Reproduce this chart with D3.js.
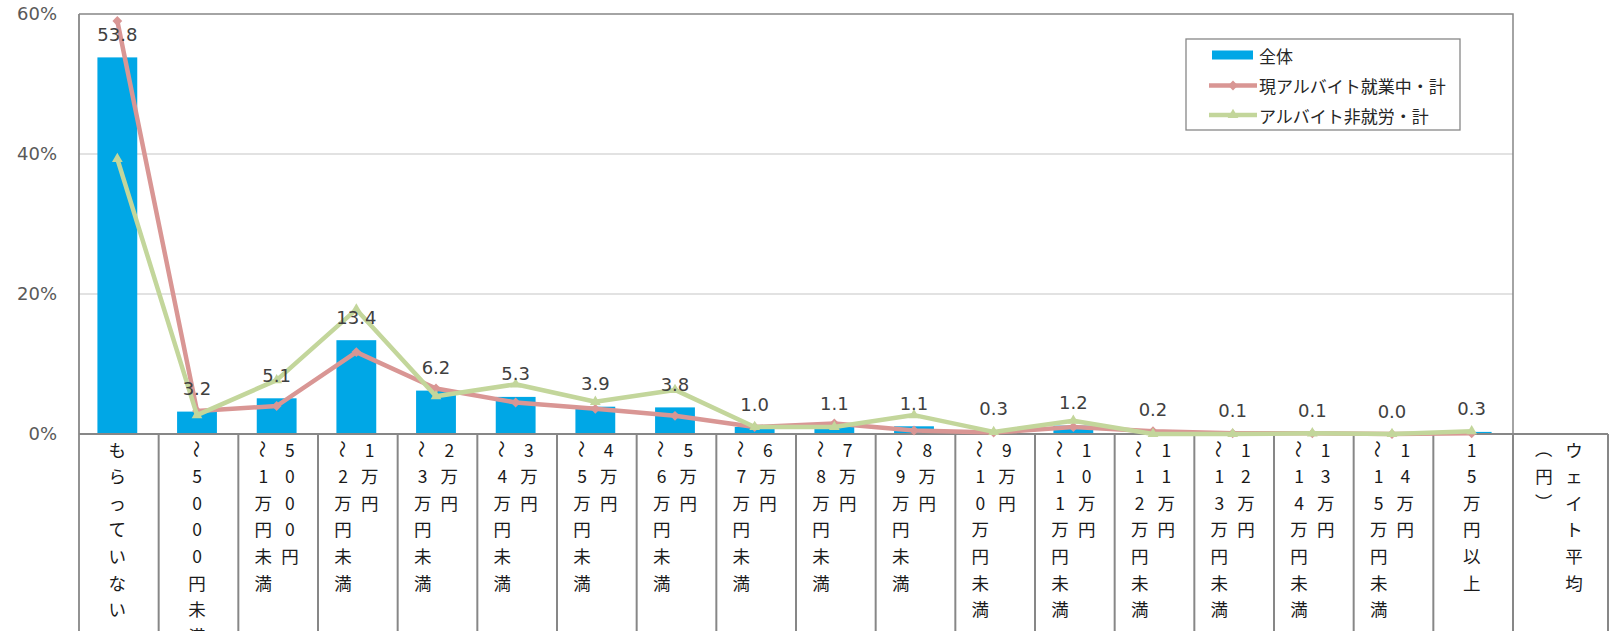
<!DOCTYPE html>
<html><head><meta charset="utf-8">
<script src="https://cdn.jsdelivr.net/npm/d3@7"></script>
<style>body{margin:0;background:#fff}svg{display:block}</style>
</head><body><svg id="c" width="1617" height="631"></svg>
<script>
const categories = ["もらっていない","～5000円未満","5000円～1万円未満","1万円～2万円未満","2万円～3万円未満","3万円～4万円未満","4万円～5万円未満","5万円～6万円未満","6万円～7万円未満","7万円～8万円未満","8万円～9万円未満","9万円～10万円未満","10万円～11万円未満","11万円～12万円未満","12万円～13万円未満","13万円～14万円未満","14万円～15万円未満","15万円以上","ウェイト平均（円）"];
const seriesNames = ["全体","現アルバイト就業中・計","アルバイト非就労・計"];
const totalValues = [53.8,3.2,5.1,13.4,6.2,5.3,3.9,3.8,1.0,1.1,1.1,0.3,1.2,0.2,0.1,0.1,0.0,0.3];
const workingValues = [59.0,3.3,4.0,11.7,6.5,4.5,3.6,2.6,1.0,1.5,0.5,0.2,1.0,0.4,0.1,0.1,0.0,0.1];
const notWorkingValues = [39.3,2.7,7.7,17.8,5.4,7.1,4.6,6.3,1.0,1.0,2.7,0.3,1.9,0.0,0.0,0.1,0.0,0.4];
const yTicks = [0,20,40,60];

(function(){
const W = 1617, H = 631;
const pLeft = 79, pTop = 14, pBottom = 434, pRight = 1513;
const nPlot = totalValues.length;
const step = (pRight - pLeft) / nPlot;
const svg = d3.select("#c");
svg.append("rect").attr("width",W).attr("height",H).attr("fill","#fff");

const x = d3.scaleBand().domain(categories)
  .range([pLeft, pLeft + step*categories.length])
  .paddingInner(0.5).paddingOuter(0.25);
const y = d3.scaleLinear().domain([0,60]).range([pBottom, pTop]);
const shift = -1.5;
const cx = c => x(c) + x.bandwidth()/2 + shift;
const plotCats = categories.slice(0, nPlot);
const lastSep = W - 9;

const BLUE = "#00a7e6", PINK = "#d99694", GREEN = "#c3d69b", AX = "#878787";
const NUMFONT = "'DejaVu Sans', Verdana, sans-serif";
const JPFONT = "'Noto Sans CJK JP', sans-serif";

svg.append("g").selectAll("line").data(yTicks.filter(t => t>0 && t<60)).join("line")
  .attr("x1", pLeft).attr("x2", pRight).attr("y1", d=>y(d)).attr("y2", d=>y(d))
  .attr("stroke","#d9d9d9").attr("stroke-width",1.3);

svg.append("path").attr("d",`M${pLeft},${y(60)}H${pRight}V${pBottom}`)
  .attr("fill","none").attr("stroke",AX).attr("stroke-width",1.5);

const ya = svg.append("g").attr("transform",`translate(${pLeft},0)`)
  .call(d3.axisLeft(y).tickValues(yTicks).tickFormat(d=>d+"%").tickSize(0).tickPadding(22));
ya.select(".domain").remove();
ya.selectAll("text").attr("font-family",NUMFONT).attr("font-size",18).attr("fill","#595959");
svg.append("line").attr("x1",pLeft).attr("x2",pLeft).attr("y1",pTop).attr("y2",H)
  .attr("stroke",AX).attr("stroke-width",1.8);

svg.append("g").selectAll("rect").data(plotCats).join("rect")
  .attr("x", c => x(c)+shift).attr("width", x.bandwidth())
  .attr("y", (c,i) => y(totalValues[i])).attr("height", (c,i) => pBottom - y(totalValues[i]))
  .attr("fill", BLUE);

svg.append("line").attr("x1",pLeft).attr("x2",lastSep).attr("y1",pBottom).attr("y2",pBottom)
  .attr("stroke",AX).attr("stroke-width",2);
const seps = categories.slice(1).map(c => x(c) - x.step()*0.25).concat([lastSep]);
svg.append("g").selectAll("line").data(seps).join("line")
  .attr("x1",d=>d).attr("x2",d=>d).attr("y1",pBottom).attr("y2",H)
  .attr("stroke",AX).attr("stroke-width",2);

const line = d3.line().x((d,i)=>cx(plotCats[i])).y(d=>y(d));
const diamond = d3.symbol(d3.symbolSquare, 48);
const tri = d3.symbol(d3.symbolTriangle, 50);
function drawSeries(vals, color, marker, rot){
  svg.append("path").datum(vals).attr("d",line).attr("fill","none")
    .attr("stroke",color).attr("stroke-width",4.5).attr("stroke-linejoin","round");
  svg.append("g").selectAll("path").data(vals).join("path")
    .attr("d", marker).attr("fill", color)
    .attr("transform",(d,i)=>`translate(${cx(plotCats[i])},${y(d)}) rotate(${rot})`);
}
drawSeries(workingValues, PINK, diamond, 45);
drawSeries(notWorkingValues, GREEN, tri, 0);

svg.append("g").selectAll("text").data(plotCats).join("text")
  .attr("x", c => cx(c)).attr("y",(c,i)=>y(totalValues[i]) - 16.5)
  .attr("text-anchor","middle").attr("font-family",NUMFONT).attr("font-size",18)
  .attr("fill","#404040").text((c,i)=>totalValues[i].toFixed(1));

function columns(s){
  const out=[]; let cur="";
  for (const ch of s){
    if ((ch==="～"||ch==="（") && cur.length>0){ out.push(cur); cur=""; }
    cur+=ch;
  }
  out.push(cur); return out;
}
const rotated = new Set(["～","（","）"]);
const lg = svg.append("g").attr("font-family",JPFONT).attr("font-size",17.5).attr("fill","#1a1a1a");
categories.forEach((c,i)=>{
  const cols = columns(c);
  const isLast = i === categories.length-1;
  const center = isLast ? (pRight + lastSep)/2 + shift : cx(c);
  const sp = isLast ? 30 : 26.6;
  cols.forEach((col,j)=>{
    const colX = center + (cols.length-1)/2*sp - j*sp;
    Array.from(col).forEach((ch,k)=>{
      const cy = 449 + k*26.6;
      lg.append("text").attr("text-anchor","middle").attr("dominant-baseline","central")
        .attr("transform",`translate(${colX},${cy})` + (rotated.has(ch)?" rotate(90)":""))
        .text(ch);
    });
  });
});

const L = svg.append("g");
L.append("rect").attr("x",1186).attr("y",39).attr("width",274).attr("height",91)
  .attr("fill","#fff").attr("stroke",AX).attr("stroke-width",1.3);
const rows = [55, 85.5, 115];
L.append("rect").attr("x",1212).attr("y",rows[0]-4.5).attr("width",41).attr("height",9).attr("fill",BLUE);
[[PINK,diamond,45],[GREEN,tri,0]].forEach(([col,m,r],k)=>{
  const yy = rows[k+1];
  L.append("line").attr("x1",1209).attr("x2",1257).attr("y1",yy).attr("y2",yy)
    .attr("stroke",col).attr("stroke-width",4.5);
  L.append("path").attr("d",m).attr("fill",col).attr("transform",`translate(1233,${yy}) rotate(${r})`);
});
L.selectAll("text.lg").data(seriesNames).join("text").attr("class","lg")
  .attr("x",1259).attr("y",(d,i)=>rows[i]).attr("dominant-baseline","central")
  .attr("font-family",JPFONT).attr("font-size",17).attr("fill","#262626").text(d=>d);
})();
</script></body></html>
